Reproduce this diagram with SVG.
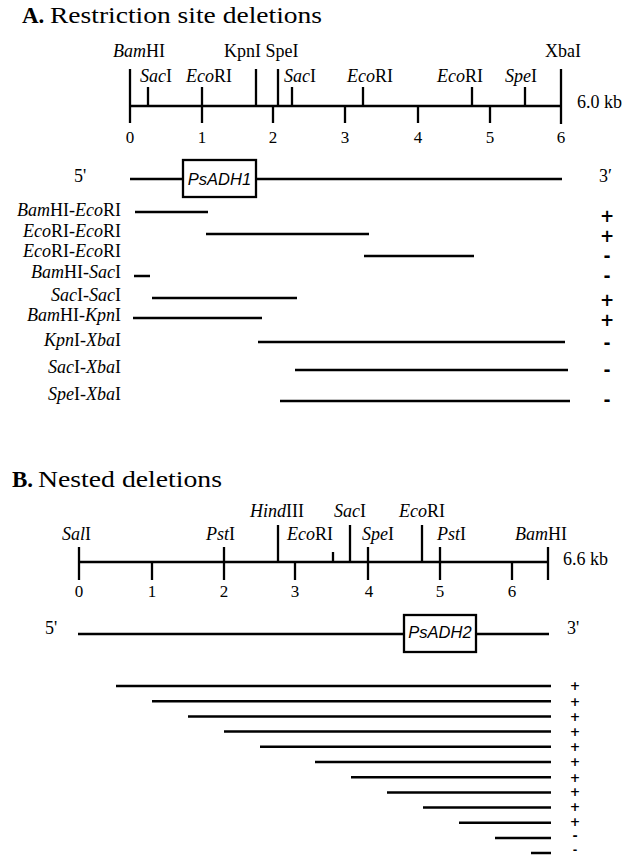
<svg xmlns="http://www.w3.org/2000/svg" width="624" height="856" viewBox="0 0 624 856">
  <style>
    .bg { fill: #ffffff; }
    .axis { stroke: #000; stroke-width: 2.6; fill: none; }
    .tick { stroke: #000; stroke-width: 2.3; fill: none; }
    .frag { stroke: #000; stroke-width: 2.5; fill: none; }
    .gene-line { stroke: #000; stroke-width: 2.4; fill: none; }
    .gene-box { stroke: #000; stroke-width: 2.3; fill: #fff; }
    .title { font-family: "Liberation Serif", "Times New Roman", serif; font-size: 23px; fill: #000; }
    .title-b { font-family: "Liberation Serif", "Times New Roman", serif; font-size: 23px; font-weight: bold; fill: #000; }
    .lbl { font-family: "Liberation Serif", "Times New Roman", serif; font-size: 18px; fill: #000; }
    .row { font-family: "Liberation Serif", "Times New Roman", serif; font-size: 18px; fill: #000; text-anchor: end; }
    .it { font-style: italic; }
    .num { font-family: "Liberation Serif", "Times New Roman", serif; font-size: 17px; fill: #000; text-anchor: middle; }
    .gene { font-family: "Liberation Sans", Arial, sans-serif; font-size: 16.5px; font-style: italic; fill: #000; text-anchor: middle; }
    .sign { font-family: "DejaVu Sans", sans-serif; font-weight: bold; fill: #000; text-anchor: middle; }
    .sA { font-size: 17px; }
    .sB { font-size: 12.5px; }
    .sB-last { font-size: 11px; }
  </style>

  <rect class="bg" x="0" y="0" width="624" height="856"/>

  <!-- ===================== Panel A: restriction site deletions ===================== -->
  <g id="panelA">
    <g id="titleA">
      <text class="title-b" x="22" y="23">A.</text>
      <text class="title" x="50" y="23" textLength="272" lengthAdjust="spacingAndGlyphs">Restriction site deletions</text>
    </g>

    <!-- map of PsADH1 region, 0-6 kb -->
    <g id="mapA">
      <line class="axis" x1="130" y1="106" x2="561" y2="106"/>
      <!-- sites reaching the upper label row -->
      <line class="tick" x1="130" y1="69" x2="130" y2="123"/>
      <line class="tick" x1="256" y1="69" x2="256" y2="106"/>
      <line class="tick" x1="278" y1="69" x2="278" y2="106"/>
      <line class="tick" x1="561" y1="69" x2="561" y2="124"/>
      <!-- sites reaching the lower label row -->
      <line class="tick" x1="148" y1="87" x2="148" y2="106"/>
      <line class="tick" x1="202" y1="87" x2="202" y2="123"/>
      <line class="tick" x1="292" y1="87" x2="292" y2="106"/>
      <line class="tick" x1="363" y1="87" x2="363" y2="106"/>
      <line class="tick" x1="472" y1="87" x2="472" y2="106"/>
      <line class="tick" x1="525" y1="87" x2="525" y2="106"/>
      <!-- kb scale marks -->
      <line class="tick" x1="273" y1="106" x2="273" y2="123"/>
      <line class="tick" x1="345" y1="106" x2="345" y2="123"/>
      <line class="tick" x1="418" y1="106" x2="418" y2="123"/>
      <line class="tick" x1="490" y1="106" x2="490" y2="123"/>

      <text class="lbl" x="113" y="57"><tspan class="it">Bam</tspan>HI</text>
      <text class="lbl" x="224" y="57">KpnI SpeI</text>
      <text class="lbl" x="545" y="57">XbaI</text>

      <text class="lbl" x="140" y="82"><tspan class="it">Sac</tspan>I</text>
      <text class="lbl" x="186" y="82"><tspan class="it">Eco</tspan>RI</text>
      <text class="lbl" x="284" y="82"><tspan class="it">Sac</tspan>I</text>
      <text class="lbl" x="347" y="82"><tspan class="it">Eco</tspan>RI</text>
      <text class="lbl" x="437" y="82"><tspan class="it">Eco</tspan>RI</text>
      <text class="lbl" x="505" y="82"><tspan class="it">Spe</tspan>I</text>

      <text class="lbl" x="577" y="108">6.0 kb</text>

      <text class="num" x="130" y="143">0</text>
      <text class="num" x="202" y="143">1</text>
      <text class="num" x="273" y="143">2</text>
      <text class="num" x="345" y="143">3</text>
      <text class="num" x="418" y="143">4</text>
      <text class="num" x="490" y="143">5</text>
      <text class="num" x="561" y="143">6</text>
    </g>

    <g id="geneA">
      <text class="lbl" x="74" y="182">5'</text>
      <line class="gene-line" x1="130" y1="179" x2="562" y2="179"/>
      <rect class="gene-box" x="183" y="160" width="73" height="37"/>
      <text class="gene" x="219.5" y="185">PsADH1</text>
      <text class="lbl" x="599" y="182">3′</text>
    </g>

    <!-- deletion fragments -->
    <g id="fragmentsA">
      <text class="row" x="121" y="216"><tspan class="it">Bam</tspan>HI-<tspan class="it">Eco</tspan>RI</text>
      <line class="frag" x1="135" y1="212" x2="208" y2="212"/>

      <text class="row" x="121" y="237"><tspan class="it">Eco</tspan>RI-<tspan class="it">Eco</tspan>RI</text>
      <line class="frag" x1="206" y1="234" x2="369" y2="234"/>

      <text class="row" x="121" y="257"><tspan class="it">Eco</tspan>RI-<tspan class="it">Eco</tspan>RI</text>
      <line class="frag" x1="364" y1="256" x2="474" y2="256"/>

      <text class="row" x="121" y="278"><tspan class="it">Bam</tspan>HI-<tspan class="it">Sac</tspan>I</text>
      <line class="frag" x1="134" y1="276" x2="150" y2="276"/>

      <text class="row" x="121" y="301"><tspan class="it">Sac</tspan>I-<tspan class="it">Sac</tspan>I</text>
      <line class="frag" x1="152" y1="298" x2="297" y2="298"/>

      <text class="row" x="121" y="321"><tspan class="it">Bam</tspan>HI-<tspan class="it">Kpn</tspan>I</text>
      <line class="frag" x1="133" y1="318" x2="262" y2="318"/>

      <text class="row" x="121" y="346"><tspan class="it">Kpn</tspan>I-<tspan class="it">Xba</tspan>I</text>
      <line class="frag" x1="258" y1="342" x2="565" y2="342"/>

      <text class="row" x="121" y="373"><tspan class="it">Sac</tspan>I-<tspan class="it">Xba</tspan>I</text>
      <line class="frag" x1="295" y1="370" x2="568" y2="370"/>

      <text class="row" x="121" y="400"><tspan class="it">Spe</tspan>I-<tspan class="it">Xba</tspan>I</text>
      <line class="frag" x1="280" y1="401" x2="570" y2="401"/>
    </g>

    <!-- activity score column -->
    <g id="scoresA">
      <text class="sign sA" x="607" y="222">+</text>
      <text class="sign sA" x="607" y="242">+</text>
      <text class="sign sA" x="607" y="262">-</text>
      <text class="sign sA" x="607" y="282">-</text>
      <text class="sign sA" x="607" y="306">+</text>
      <text class="sign sA" x="607" y="326">+</text>
      <text class="sign sA" x="607" y="349">-</text>
      <text class="sign sA" x="607" y="376">-</text>
      <text class="sign sA" x="607" y="406">-</text>
    </g>
  </g>

  <!-- ===================== Panel B: nested deletions ===================== -->
  <g id="panelB">
    <g id="titleB">
      <text class="title-b" x="12" y="487">B.</text>
      <text class="title" x="38" y="487" textLength="184" lengthAdjust="spacingAndGlyphs">Nested deletions</text>
    </g>

    <!-- map of PsADH2 region, 0-6.6 kb -->
    <g id="mapB">
      <line class="axis" x1="79" y1="562" x2="548" y2="562"/>
      <!-- sites reaching the lower label row -->
      <line class="tick" x1="79" y1="547" x2="79" y2="580"/>
      <line class="tick" x1="224" y1="547" x2="224" y2="580"/>
      <line class="tick" x1="368" y1="547" x2="368" y2="580"/>
      <line class="tick" x1="440" y1="547" x2="440" y2="580"/>
      <line class="tick" x1="548" y1="547" x2="548" y2="580"/>
      <line class="tick" x1="333" y1="552" x2="333" y2="562"/>
      <!-- sites reaching the upper label row -->
      <line class="tick" x1="278" y1="525" x2="278" y2="562"/>
      <line class="tick" x1="350" y1="525" x2="350" y2="562"/>
      <line class="tick" x1="422" y1="525" x2="422" y2="562"/>
      <!-- kb scale marks -->
      <line class="tick" x1="152" y1="562" x2="152" y2="580"/>
      <line class="tick" x1="295" y1="562" x2="295" y2="580"/>
      <line class="tick" x1="512" y1="562" x2="512" y2="580"/>

      <text class="lbl" x="250" y="517"><tspan class="it">Hind</tspan>III</text>
      <text class="lbl" x="334" y="517"><tspan class="it">Sac</tspan>I</text>
      <text class="lbl" x="399" y="517"><tspan class="it">Eco</tspan>RI</text>

      <text class="lbl" x="62" y="540"><tspan class="it">Sal</tspan>I</text>
      <text class="lbl" x="206" y="540"><tspan class="it">Pst</tspan>I</text>
      <text class="lbl" x="287" y="540"><tspan class="it">Eco</tspan>RI</text>
      <text class="lbl" x="362" y="540"><tspan class="it">Spe</tspan>I</text>
      <text class="lbl" x="437" y="540"><tspan class="it">Pst</tspan>I</text>
      <text class="lbl" x="515" y="540"><tspan class="it">Bam</tspan>HI</text>

      <text class="lbl" x="563" y="565">6.6 kb</text>

      <text class="num" x="79" y="597">0</text>
      <text class="num" x="152" y="597">1</text>
      <text class="num" x="224" y="597">2</text>
      <text class="num" x="295" y="597">3</text>
      <text class="num" x="369" y="597">4</text>
      <text class="num" x="440" y="597">5</text>
      <text class="num" x="512" y="597">6</text>
    </g>

    <g id="geneB">
      <text class="lbl" x="45" y="634">5'</text>
      <line class="gene-line" x1="78" y1="634" x2="549" y2="634"/>
      <rect class="gene-box" x="404" y="615" width="72" height="37"/>
      <text class="gene" x="440" y="638">PsADH2</text>
      <text class="lbl" x="567" y="634">3'</text>
    </g>

    <!-- 5' nested deletion series -->
    <g id="fragmentsB">
      <line class="frag" x1="116" y1="686" x2="551" y2="686"/>
      <line class="frag" x1="152" y1="701.2" x2="551" y2="701.2"/>
      <line class="frag" x1="188" y1="716.4" x2="551" y2="716.4"/>
      <line class="frag" x1="224" y1="731.6" x2="551" y2="731.6"/>
      <line class="frag" x1="260" y1="746.8" x2="551" y2="746.8"/>
      <line class="frag" x1="315" y1="762" x2="551" y2="762"/>
      <line class="frag" x1="351" y1="777.2" x2="551" y2="777.2"/>
      <line class="frag" x1="387" y1="792.4" x2="551" y2="792.4"/>
      <line class="frag" x1="423" y1="807.6" x2="551" y2="807.6"/>
      <line class="frag" x1="459" y1="822.8" x2="551" y2="822.8"/>
      <line class="frag" x1="495" y1="838" x2="551" y2="838"/>
      <line class="frag" x1="531" y1="853" x2="551" y2="853"/>
    </g>

    <!-- activity score column -->
    <g id="scoresB">
      <text class="sign sB" x="575" y="690.3">+</text>
      <text class="sign sB" x="575" y="705.5">+</text>
      <text class="sign sB" x="575" y="720.7">+</text>
      <text class="sign sB" x="575" y="735.9">+</text>
      <text class="sign sB" x="575" y="751.1">+</text>
      <text class="sign sB" x="575" y="766.3">+</text>
      <text class="sign sB" x="575" y="781.5">+</text>
      <text class="sign sB" x="575" y="796.3">+</text>
      <text class="sign sB" x="575" y="810.9">+</text>
      <text class="sign sB" x="575" y="825.5">+</text>
      <text class="sign sB" x="575" y="840.1">-</text>
      <text class="sign sB-last" x="575" y="853.3">-</text>
    </g>
  </g>
</svg>
